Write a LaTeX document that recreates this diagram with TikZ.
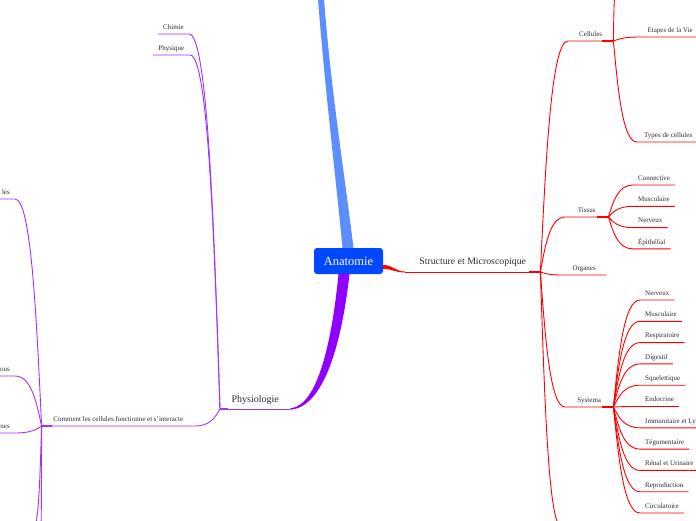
\documentclass[tikz,border=0pt]{standalone}
\usepackage{fontspec}
\setmainfont{Liberation Serif}
\usetikzlibrary{calc,positioning}
\definecolor{anablue}{RGB}{0,72,255}
\definecolor{skyblue}{RGB}{92,142,255}
\definecolor{physviolet}{RGB}{145,0,255}
\definecolor{physline}{RGB}{160,50,255}
\definecolor{structred}{RGB}{255,0,0}
\definecolor{inkgrey}{RGB}{45,45,45}

\tikzset{
  hub/.style={fill=anablue, rounded corners=3pt, text=white, minimum width=69pt,
    minimum height=26pt, inner sep=0pt, font=\fontsize{12.5}{14}\selectfont},
  topic/.style={text=inkgrey, font=\fontsize{7}{8}\selectfont, inner xsep=5pt,
    inner ysep=3pt, text height=4.8pt, text depth=1.5pt},
  redline/.style={draw=structred, line width=0.9pt},
  purpline/.style={draw=physline, line width=0.9pt},
  knot/.style={line width=2.2pt},
  branch/.style={to path={let \p1=(\tikztostart), \p2=(\tikztotarget) in
    .. controls ({\x1+0.2*(\x2-\x1)},{0.5*(\y1+\y2)}) and ({\x1+0.4*(\x2-\x1)},\y2) .. (\tikztotarget)}}
}

\begin{document}
\begin{tikzpicture}[x=1pt, y=-1pt]

    % 1. 背景
    \fill[white] (0,0) rectangle (696,520);
    \useasboundingbox (0,0) rectangle (696,520);

    % 2. 中心节点
    \node[hub] (ana) at (348.5,261) {Anatomie};

    % 3. 上方：蓝色分支
    \coordinate (skytop) at (321,-1);
    \fill[skyblue] ([xshift=-3pt]skytop) .. controls (325,90) and (335,170) .. ([xshift=-6pt]ana.north)
        -- ([xshift=5pt]ana.north) .. controls (344,170) and (331,90) .. ([xshift=3pt]skytop) -- cycle;

    % 4. 右侧：Structure et Microscopique
    \node[topic, anchor=south west, minimum width=135pt, font=\fontsize{9.8}{11}\selectfont,
        text height=7pt, text depth=2.7pt, inner ysep=4.5pt] (struct) at (405,272) {Structure et Microscopique};
    \node[topic, anchor=south west, minimum width=45pt] (cel) at (568,41) {Cellules};
    \node[topic, anchor=south west, minimum width=43pt] (tis) at (565,217) {Tissus};
    \node[topic, anchor=south west, minimum width=44pt] (org) at (562,275) {Organes};
    \node[topic, anchor=south west, minimum width=48pt] (sys) at (565,407) {Systema};
    \coordinate (celtop) at (615,-4);
    \coordinate (structlow) at (561,526);

    \fill[structred] ([yshift=-4pt]ana.east) .. controls +(10,0) and +(-10,0) .. ([yshift=0.5pt]struct.south west)
        -- ([yshift=-0.5pt]struct.south west) .. controls +(-10,0) and +(10,0) .. ([yshift=-8pt]ana.east) -- cycle;
    \draw[redline] (struct.south west) -- (struct.south east);

    \foreach \b in {cel,tis,org,sys}
        \draw[redline] (struct.south east) to[branch] (\b.south west) -- (\b.south east);
    \draw[redline] (struct.south east) to[branch] (structlow);

    % Cellules
    \node[topic, anchor=south west, minimum width=60pt] (etap) at (640,37) {Etapes de la Vie};
    \node[topic, anchor=south west, minimum width=62pt] (typ) at (637,142) {Types de cellules};
    \draw[redline] (cel.south east) to[branch] (celtop);
    \foreach \b in {etap,typ}
        \draw[redline] (cel.south east) to[branch] (\b.south west) -- (\b.south east);

    % Tissus
    \foreach \lbl [count=\i] in {Connective, Musculaire, Nerveux, Épithélial} {
        \node[topic, anchor=south west] (tis\i) at (633,{185+21.3*(\i-1)}) {\lbl};
        \draw[redline] (tis.south east) to[branch] (tis\i.south west) -- (tis\i.south east);
    }

    % Systema
    \foreach \lbl [count=\i] in {Nerveux, Musculaire, Respiratoire, Digestif, Squelettique, Endocrine,
        Immunitaire et Ly, Tégumentaire, Rénal et Urinaire, Reproduction, Circulatoire} {
        \node[topic, anchor=south west] (sys\i) at (640,{300+21.3*(\i-1)}) {\lbl};
        \draw[redline] (sys.south east) to[branch] (sys\i.south west) -- (sys\i.south east);
    }

    \foreach \b in {struct,cel,tis,sys}
        \draw[redline, knot] ([xshift=-11pt]\b.south east) -- (\b.south east);

    % 5. 左侧：Physiologie
    \node[topic, anchor=south west, minimum width=70pt, font=\fontsize{10}{12}\selectfont,
        text height=7pt, text depth=2.5pt, inner ysep=3.5pt] (phy) at (220,409) {Physiologie};
    \fill[physviolet] ([xshift=-10pt]ana.south) .. controls (332,340) and (318,406) .. ([yshift=0.7pt]phy.south east)
        -- ([yshift=-0.7pt]phy.south east) .. controls (325,407) and (342,340) .. ([xshift=1pt]ana.south) -- cycle;
    \draw[purpline] (phy.south west) -- (phy.south east);

    \node[topic, anchor=south east, minimum width=30pt] (chim) at (189,34) {Chimie};
    \node[topic, anchor=south east, minimum width=37pt] (phys) at (190,55) {Physique};
    \node[topic, anchor=south east, minimum width=153pt] (comm) at (195,426) {Comment les cellules fonctionne et s'interacte};
    \foreach \b in {chim,phys,comm}
        \draw[purpline] (phy.south west) to[branch] (\b.south east) -- (\b.south west);

    % Comment les cellules ...
    \node[topic, anchor=south east] (les) at (15,199) {les};
    \node[topic, anchor=south east] (ous) at (15,376) {ous};
    \node[topic, anchor=south east] (nes) at (15,433) {nes};
    \coordinate (lowa) at (34,526);
    \coordinate (lowb) at (41,526);
    \foreach \b in {les,ous,nes}
        \draw[purpline] (comm.south west) to[branch] (\b.south east) -- (\b.south west);
    \draw[purpline] (comm.south west) to[branch] (lowa);
    \draw[purpline] (comm.south west) to[branch] (lowb);

    \draw[purpline, knot] (comm.south west) -- ([xshift=10pt]comm.south west);
    \draw[purpline, knot] (phy.south west) -- ([xshift=8pt]phy.south west);

\end{tikzpicture}
\end{document}
